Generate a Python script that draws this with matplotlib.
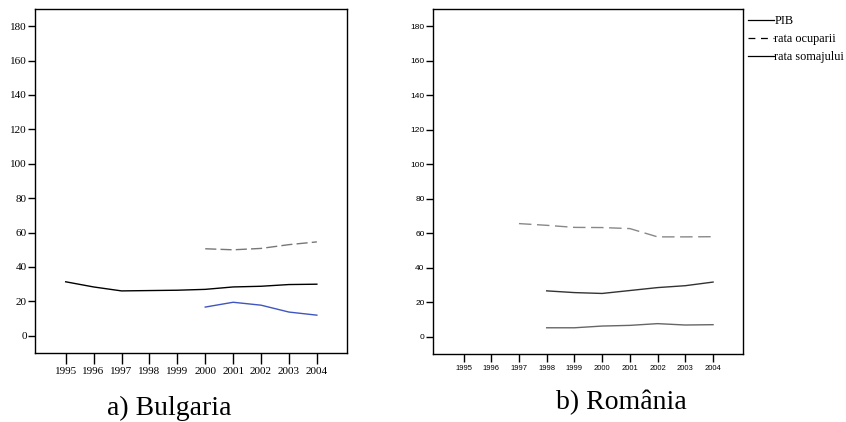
import matplotlib
matplotlib.use('Agg')
import matplotlib.pyplot as plt

# date
ani = [1995, 1996, 1997, 1998, 1999, 2000, 2001, 2002, 2003, 2004]

bg_pib_ani = ani
bg_pib = [31.4, 28.4, 26.1, 26.3, 26.5, 27.0, 28.4, 28.8, 29.8, 30.0]
bg_ocup_ani = [2000, 2001, 2002, 2003, 2004]
bg_ocup = [50.6, 50.0, 50.8, 53.0, 54.6]
bg_somaj_ani = [2000, 2001, 2002, 2003, 2004]
bg_somaj = [16.7, 19.5, 17.8, 13.8, 12.0]

ro_ocup_ani = [1997, 1998, 1999, 2000, 2001, 2002, 2003, 2004]
ro_ocup = [65.6, 64.6, 63.4, 63.3, 62.7, 57.9, 57.9, 58.0]
ro_pib_ani = [1998, 1999, 2000, 2001, 2002, 2003, 2004]
ro_pib = [26.6, 25.6, 25.1, 26.8, 28.5, 29.6, 31.7]
ro_somaj_ani = [1998, 1999, 2000, 2001, 2002, 2003, 2004]
ro_somaj = [5.2, 5.2, 6.2, 6.6, 7.6, 6.8, 7.0]

yticks = [0, 20, 40, 60, 80, 100, 120, 140, 160, 180]

W, H = 846, 422
fig = plt.figure(figsize=(W / 100, H / 100), dpi=100)


def _setup(ax, tickfont, ysize, xsize, xlen):
    ax.set_xlim(1993.9, 2005.08)
    ax.set_ylim(-10, 190)
    ax.set_xticks(ani)
    ax.set_xticklabels([str(a) for a in ani], family=tickfont, fontsize=xsize)
    ax.set_yticks(yticks)
    ax.set_yticklabels([str(v) for v in yticks], family=tickfont, fontsize=ysize)
    ax.tick_params(axis='y', length=5, width=1.0, pad=1)
    ax.tick_params(axis='x', length=xlen, width=1.0, pad=2)
    for s in ax.spines.values():
        s.set_linewidth(1.0)


# a) Bulgaria
ax1 = fig.add_axes([35 / W, 1 - 353 / H, 312 / W, 344 / H])
_setup(ax1, 'Liberation Serif', 8, 8, 8)
ax1.plot(bg_pib_ani, bg_pib, color='black', lw=1.0)
ax1.plot(bg_ocup_ani, bg_ocup, color='#777777', lw=1.0, dashes=(8, 3))
ax1.plot(bg_somaj_ani, bg_somaj, color='#3f55c0', lw=1.0)
fig.text(169 / W, 1 - 408 / H, 'a) Bulgaria', family='Liberation Serif',
         fontsize=20, ha='center', va='center')

# b) Romania
ax2 = fig.add_axes([433 / W, 1 - 354 / H, 310 / W, 345 / H])
_setup(ax2, 'Liberation Sans', 6, 5.5, 6)
ax2.plot(ro_pib_ani, ro_pib, color='#333333', lw=1.0)
ax2.plot(ro_ocup_ani, ro_ocup, color='#888888', lw=1.0, dashes=(9, 4))
ax2.plot(ro_somaj_ani, ro_somaj, color='#666666', lw=1.0)
fig.text(621 / W, 1 - 402 / H, 'b) România', family='Liberation Serif',
         fontsize=20, ha='center', va='center')

h1, = ax2.plot([], [], color='black', lw=0.9)
h2, = ax2.plot([], [], color='black', lw=0.9, dashes=(5.5, 4.5))
h3, = ax2.plot([], [], color='black', lw=0.9)
fig.legend([h1, h2, h3], ['PIB', 'rata ocuparii', 'rata somajului'],
           loc='upper left', bbox_to_anchor=(748 / W, 1 - 15 / H),
           frameon=False, prop={'family': 'Liberation Serif', 'size': 8.8},
           handlelength=2.15, handletextpad=0.0, labelspacing=0.5,
           borderpad=0, borderaxespad=0)

plt.savefig('out.png', dpi=100)
plt.close()
